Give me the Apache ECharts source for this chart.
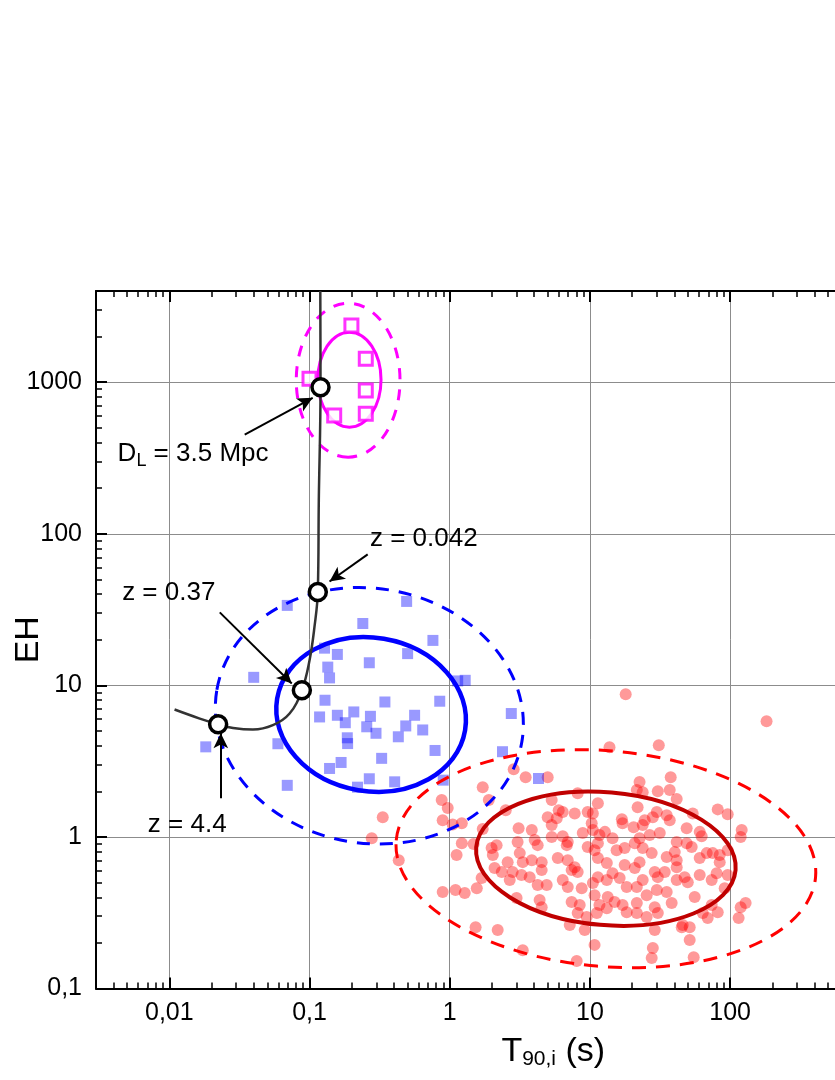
<!DOCTYPE html>
<html>
<head>
<meta charset="utf-8">
<script src="https://cdn.jsdelivr.net/npm/echarts@6/dist/echarts.min.js"></script>
<style>
  html, body { margin: 0; padding: 0; background: #fff; }
  #chart { width: 835px; height: 1080px; }
</style>
</head>
<body>
<div id="chart"></div>
<script>
// axis ranges
const X_MIN = 0.003, X_MAX = 10000;
const Y_MIN = 0.1, Y_MAX = 4000;

const xTicks = [0.01, 0.1, 1, 10, 100, 1000];
const yTicks = [0.1, 1, 10, 100, 1000];

// red circles (long bursts)
const redT90 = [
  18.0, 182, 13.8, 31.0, 2.86, 3.48, 5.00, 1.72, 1.90, 0.877,
  0.968, 0.333, 0.278, 0.891, 1.05, 1.22, 2.51, 1.72, 1.22, 1.48,
  1.12, 0.433, 0.891, 1.10, 1.28, 1.56, 1.69, 1.53, 2.20, 3.32,
  8.05, 10.8, 28.1, 27.6, 51.5, 55.0, 45.2, 51.5, 115, 129,
  119, 121, 119, 96.1, 81.6, 54.1, 37.7, 37.1, 41.6, 30.5,
  22.6, 21.6, 23.8, 8.18, 55.9, 5.34, 4.53, 9.18, 2.09, 30.5,
  14.5, 21.6, 11.4, 9.64, 10.5, 6.40, 5.99, 5.00, 5.80, 7.79,
  5.34, 21.9, 30.0, 35.3, 37.1, 28.1, 24.6, 23.8, 20.5, 16.9,
  17.1, 10.3, 10.5, 3.10, 3.85, 5.34, 6.40, 6.95, 6.84, 4.04,
  4.24, 3.05, 2.16, 1.99, 2.03, 8.89, 11.7, 12.8, 14.5, 11.4,
  10.8, 9.64, 15.5, 17.7, 20.9, 22.6, 26.7, 31.5, 23.8, 27.6,
  35.3, 40.3, 41.6, 3.16, 2.59, 3.32, 3.85, 4.53, 5.90, 6.95,
  7.79, 8.18, 7.41, 11.4, 13.2, 17.7, 22.6, 20.9, 29.0, 34.2,
  2.81, 2.68, 3.72, 4.53, 4.24, 4.92, 6.40, 6.95, 8.74, 10.5,
  11.4, 13.2, 16.3, 18.3, 21.6, 23.8, 25.4, 30.0, 35.3, 41.6,
  3.00, 4.38, 7.41, 8.46, 10.8, 11.7, 13.4, 15.0, 17.1, 18.3,
  21.6, 13.2, 29.0, 30.5, 38.3, 7.18, 8.18, 9.49, 11.2, 25.4,
  29.0, 49.0, 60.7, 62.7, 49.0, 53.2, 68.1, 75.2, 84.3, 84.3,
  96.1, 60.7, 47.4, 49.9, 60.7, 73.9, 80.2, 96.1, 91.5, 73.9,
  81.6, 63.8, 69.2, 45.9, 41.6, 41.6, 3.25, 2.35
];
const redEH = [
  8.74, 5.80, 3.91, 4.03, 2.80, 2.48, 2.48, 2.13, 1.75, 1.75,
  1.55, 1.35, 0.98, 1.29, 1.21, 1.23, 1.50, 1.13, 0.91, 0.897,
  0.759, 0.703, 0.433, 0.446, 0.426, 0.459, 0.535, 0.254, 0.243, 0.179,
  0.152, 0.194, 0.185, 0.159, 0.209, 0.161, 0.254, 0.254, 0.292, 0.366,
  0.344, 1.11, 1.00, 1.41, 1.52, 1.43, 2.48, 2.04, 1.78, 2.00,
  2.30, 2.04, 1.97, 1.94, 0.401, 1.75, 0.344, 0.243, 0.623, 0.543,
  0.577, 0.315, 1.67, 1.46, 1.43, 1.46, 1.50, 1.35, 1.33, 1.43,
  1.20, 1.57, 1.46, 1.39, 1.29, 1.35, 1.29, 1.20, 1.16, 1.31,
  1.23, 1.23, 1.11, 1.14, 1.11, 1.00, 1.01, 0.925, 0.883, 0.953,
  0.883, 0.925, 0.883, 0.844, 0.759, 1.06, 1.03, 1.08, 0.98, 0.91,
  0.818, 0.857, 0.818, 0.844, 0.91, 0.98, 1.03, 1.06, 0.844, 0.782,
  0.736, 0.794, 0.703, 0.782, 0.682, 0.682, 0.703, 0.682, 0.725, 0.703,
  0.632, 0.586, 0.604, 0.725, 0.672, 0.652, 0.682, 0.623, 0.586, 0.586,
  0.586, 0.519, 0.543, 0.604, 0.481, 0.481, 0.519, 0.467, 0.459, 0.496,
  0.543, 0.519, 0.535, 0.467, 0.467, 0.519, 0.413, 0.446, 0.433, 0.519,
  0.395, 0.383, 0.372, 0.355, 0.413, 0.355, 0.401, 0.372, 0.355, 0.319,
  0.366, 0.339, 0.344, 0.315, 0.366, 0.262, 0.315, 0.296, 0.315, 0.296,
  0.243, 1.14, 1.08, 1.01, 0.91, 0.857, 0.782, 0.782, 0.759, 0.682,
  0.818, 0.725, 0.543, 0.503, 0.560, 0.519, 0.577, 0.560, 0.459, 0.355,
  0.319, 0.315, 0.292, 0.262, 0.925, 0.632, 0.560, 0.586
];

// blue squares (short bursts)
const blueT90 = [
  0.0694, 0.493, 0.240, 0.759, 0.128, 0.158, 0.501, 0.267, 0.135, 0.139,
  0.0400, 1.14, 1.29, 0.129, 0.345, 0.849, 0.118, 0.158, 0.207, 0.180,
  0.272, 0.562, 0.256, 0.298, 0.486, 0.642, 0.430, 0.186, 0.187, 2.75,
  0.0182, 0.0595, 0.786, 2.38, 0.327, 0.168, 0.139, 0.267, 0.405, 0.220,
  0.0694, 0.899, 4.30
];
const blueEH = [
  33.7, 35.8, 25.6, 19.8, 17.6, 16.0, 16.2, 14.1, 13.2, 11.2,
  11.3, 10.7, 10.8, 7.98, 7.77, 7.86, 6.19, 6.35, 6.68, 5.67,
  6.25, 6.35, 5.33, 4.83, 5.40, 5.08, 4.58, 4.51, 4.13, 6.52,
  3.93, 4.12, 3.72, 3.65, 3.30, 3.10, 2.83, 2.42, 2.31, 2.13,
  2.19, 2.37, 2.43
];

// magenta open squares
const magT90 = [0.199, 0.252, 0.100, 0.252, 0.150, 0.252];
const magEH = [2366, 1427, 1053, 881, 603, 620];

// distance track (black curve)
const curveT90 = [0.0109, 0.0165, 0.0223, 0.0285, 0.0395, 0.0548, 0.0721, 0.0882, 0.100, 0.1085, 0.1146, 0.1165, 0.1198, 0.1194];
const curveEH = [6.93, 6.04, 5.54, 5.24, 5.11, 5.46, 6.52, 9.28, 14.6, 24.3, 41.3, 166, 927, 4000];

// marked points on the track: z = 4.4, 0.37, 0.042, D_L = 3.5 Mpc
const markT90 = [0.0223, 0.0882, 0.1146, 0.1198];
const markEH = [5.54, 9.28, 41.3, 927];

// ellipses: [centre T90, centre EH, major-axis end T90, EH, minor-axis end T90, EH]
const magentaInner = [0.1927, 1039, 0.1927, 2136, 0.3237, 1039];
const magentaOuter = [0.1886, 1031, 0.1886, 3318, 0.4421, 1031];
const blueInner = [0.275, 6.43, 1.287, 5.05, 0.2229, 2.035];
const blueOuter = [0.2673, 6.30, 3.271, 4.24, 0.1879, 0.935];
const redInner = [13.0, 0.719, 109.4, 0.605, 11.8, 0.263];
const redOuter = [13.0, 0.719, 407, 0.544, 11.1, 0.1406];

// annotations
const noteText = ['D{sub|L} = 3.5 Mpc', 'z = 0.042', 'z = 0.37', 'z = 4.4'];
const noteT90 = [0.01477, 0.653, 0.00991, 0.01342];
const noteEH = [339, 93.3, 40.5, 1.196];
const arrowFrom = [[0.0345, 452], [0.260, 73.1], [0.0229, 30.3], [0.0233, 1.80]];
const arrowTo = [[0.1054, 789], [0.139, 48.5], [0.0747, 10.3], [0.0233, 4.83]];

const FONT = '"Liberation Sans", Arial, sans-serif';

function minorTicks(lo, hi) {
  const out = [];
  for (let d = lo; d < hi; d *= 10) {
    for (let m = 2; m <= 9; m++) {
      const v = +(m * d).toPrecision(3);
      if (v > lo && v < hi) out.push(v);
    }
  }
  return out;
}
const xMinor = minorTicks(0.001, X_MAX).filter(v => v > X_MIN);
const yMinor = minorTicks(Y_MIN, 10000).filter(v => v < Y_MAX);

const zip = (a, b) => a.map((v, i) => [v, b[i]]);
const commaFmt = v => String(v).replace('.', ',');

function ellipseSeries(geom, color, width, dash, z) {
  return {
    type: 'custom',
    coordinateSystem: 'cartesian2d',
    silent: true,
    z: z,
    encode: { x: 0, y: 1 },
    data: [geom],
    renderItem: function (params, api) {
      const c = api.coord([api.value(0), api.value(1)]);
      const a = api.coord([api.value(2), api.value(3)]);
      const b = api.coord([api.value(4), api.value(5)]);
      return {
        type: 'ellipse',
        x: c[0],
        y: c[1],
        rotation: -Math.atan2(a[1] - c[1], a[0] - c[0]),
        shape: {
          cx: 0, cy: 0,
          rx: Math.hypot(a[0] - c[0], a[1] - c[1]),
          ry: Math.hypot(b[0] - c[0], b[1] - c[1])
        },
        style: { fill: 'none', stroke: color, lineWidth: width, lineDash: dash }
      };
    }
  };
}

function tickAxis(kind, position, values, length, width, extra) {
  const base = {
    type: 'log',
    min: kind === 'x' ? X_MIN : Y_MIN,
    max: kind === 'x' ? X_MAX : Y_MAX,
    position: position,
    axisLine: { show: false },
    axisTick: { show: true, inside: true, length: length, customValues: values, lineStyle: { color: '#000', width: width } },
    axisLabel: { show: false },
    splitLine: { show: false },
    minorTick: { show: false }
  };
  return Object.assign(base, extra || {});
}

const chart = echarts.init(document.getElementById('chart'));

const option = {
  animation: false,
  backgroundColor: '#fff',
  grid: { left: 96, top: 291, bottom: 91.5, right: -175.5, containLabel: false, outerBoundsMode: 'none' },
  xAxis: [
    tickAxis('x', 'bottom', xTicks, 11, 2, {
      axisLine: { show: true, lineStyle: { color: '#000', width: 2 } },
      axisLabel: { show: true, customValues: xTicks, formatter: commaFmt, margin: 12, color: '#000', fontSize: 25, fontFamily: FONT },
      splitLine: { show: true, lineStyle: { color: '#8c8c8c', width: 1 } },
      name: 'T{sub|90,i} (s)',
      nameLocation: 'middle',
      nameGap: 45,
      nameMoveOverlap: false,
      nameTextStyle: {
        color: '#000', fontSize: 34, fontFamily: FONT,
        rich: { sub: { color: '#000', fontSize: 21, fontFamily: FONT, padding: [15, 0, 0, 0] } }
      }
    }),
    tickAxis('x', 'bottom', xMinor, 6, 1.5),
    tickAxis('x', 'top', xTicks, 11, 2, {
      axisLine: { show: true, lineStyle: { color: '#000', width: 2 } }
    }),
    tickAxis('x', 'top', xMinor, 6, 1.5)
  ],
  yAxis: [
    tickAxis('y', 'left', yTicks, 11, 2, {
      axisLine: { show: true, lineStyle: { color: '#000', width: 2 } },
      axisLabel: { show: true, customValues: yTicks, formatter: commaFmt, margin: 14, color: '#000', fontSize: 25, fontFamily: FONT },
      splitLine: { show: true, lineStyle: { color: '#8c8c8c', width: 1 } },
      name: 'EH',
      nameLocation: 'middle',
      nameGap: 50,
      nameMoveOverlap: false,
      nameTextStyle: { color: '#000', fontSize: 34, fontFamily: FONT }
    }),
    tickAxis('y', 'left', yMinor, 6, 1.5)
  ],
  series: [
    {
      name: 'long',
      type: 'scatter',
      data: zip(redT90, redEH),
      symbol: 'circle',
      symbolSize: 12,
      itemStyle: { color: 'rgba(255,0,0,0.5)' },
      z: 2
    },
    {
      name: 'short',
      type: 'scatter',
      data: zip(blueT90, blueEH),
      symbol: 'rect',
      symbolSize: 11,
      itemStyle: { color: 'rgba(0,0,255,0.5)' },
      z: 2
    },
    ellipseSeries(redInner, '#c00000', 4, null, 3),
    ellipseSeries(redOuter, '#ff0000', 3, [14, 10], 3),
    ellipseSeries(blueInner, '#0000ff', 4.5, null, 3),
    ellipseSeries(blueOuter, '#0000ff', 3, [13, 10], 3),
    ellipseSeries(magentaInner, '#ff00ff', 3, null, 3),
    ellipseSeries(magentaOuter, '#ff00ff', 3, [11, 10], 3),
    {
      name: 'giant flares',
      type: 'scatter',
      data: zip(magT90, magEH),
      symbol: 'rect',
      symbolSize: 13,
      itemStyle: { color: '#fff', borderColor: '#ff00ff', borderWidth: 3 },
      z: 4
    },
    {
      name: 'track',
      type: 'line',
      data: zip(curveT90, curveEH),
      smooth: 0.4,
      showSymbol: false,
      lineStyle: { color: '#333', width: 2.5 },
      z: 5,
      markLine: {
        silent: true,
        symbol: ['none', 'arrow'],
        symbolSize: [11, 15],
        lineStyle: { color: '#000', width: 2, type: 'solid', opacity: 1 },
        itemStyle: { color: '#000' },
        label: { show: false },
        data: arrowFrom.map((f, i) => [{ coord: f }, { coord: arrowTo[i] }])
      }
    },
    {
      name: 'marks',
      type: 'scatter',
      data: zip(markT90, markEH),
      symbol: 'circle',
      symbolSize: 17,
      itemStyle: { color: '#fff', borderColor: '#000', borderWidth: 3.5, opacity: 1 },
      z: 6
    },
    {
      name: 'notes',
      type: 'scatter',
      silent: true,
      symbolSize: 0,
      itemStyle: { color: '#000', opacity: 1 },
      z: 7,
      data: noteText.map((t, i) => ({
        value: [noteT90[i], noteEH[i]],
        label: { formatter: t }
      })),
      label: {
        show: true,
        position: 'inside',
        align: 'center',
        verticalAlign: 'middle',
        color: '#000',
        opacity: 1,
        textBorderWidth: 0,
        fontSize: 26,
        fontFamily: FONT,
        rich: { sub: { color: '#000', fontSize: 18, fontFamily: FONT, padding: [16, 0, 0, 0] } }
      }
    }
  ]
};

chart.setOption(option);
</script>
</body>
</html>
